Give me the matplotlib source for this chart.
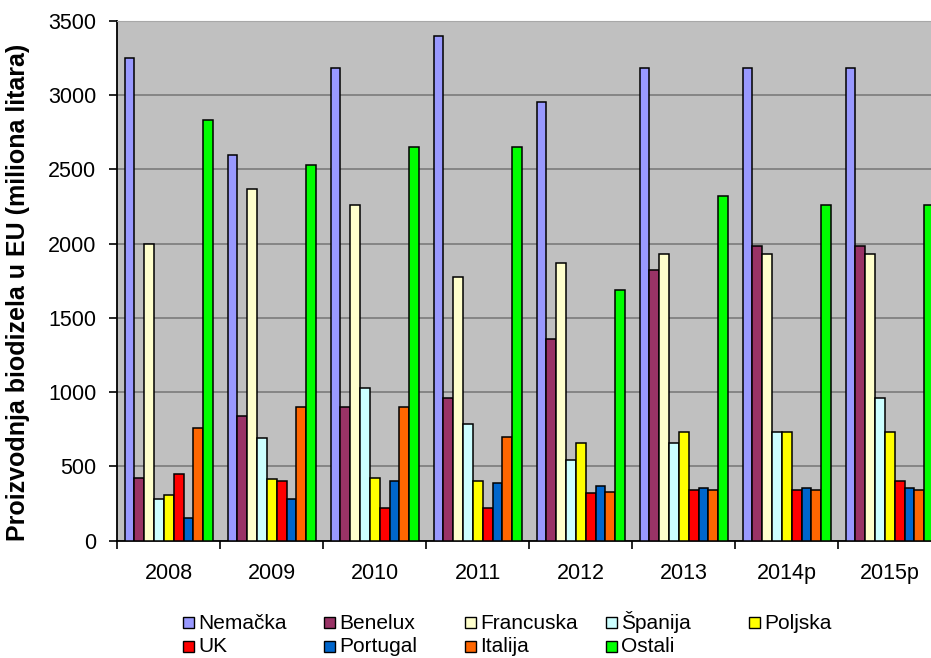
import numpy as np
import matplotlib
matplotlib.use('Agg')
import matplotlib.pyplot as plt
from matplotlib.patches import Rectangle

plt.rcParams['font.family'] = ['Liberation Sans', 'DejaVu Sans']

years = ['2008', '2009', '2010', '2011', '2012', '2013', '2014p', '2015p']
countries = ['Nemačka', 'Benelux', 'Francuska', 'Španija', 'Poljska',
             'UK', 'Portugal', 'Italija', 'Ostali']
colors = ['#9999FF', '#993366', '#FFFFCC', '#CCFFFF', '#FFFF00',
          '#FF0000', '#0066CC', '#FF6600', '#00FF00']

# miliona litara, po godini
nemacka   = [3250, 2595, 3180, 3400, 2950, 3180, 3180, 3180]
benelux   = [425, 840, 900, 960, 1355, 1820, 1985, 1985]
francuska = [2000, 2370, 2260, 1775, 1870, 1930, 1930, 1930]
spanija   = [280, 690, 1030, 785, 545, 660, 735, 960]
poljska   = [305, 415, 425, 400, 660, 735, 735, 735]
uk        = [450, 400, 220, 220, 320, 340, 340, 400]
portugal  = [150, 280, 400, 390, 365, 355, 355, 355]
italija   = [760, 900, 900, 700, 330, 340, 340, 340]
ostali    = [2830, 2530, 2650, 2650, 1690, 2320, 2260, 2260]
series = [nemacka, benelux, francuska, spanija, poljska,
          uk, portugal, italija, ostali]

W, H = 931, 658
fig = plt.figure(figsize=(W/100, H/100), dpi=100)
ax = fig.add_axes([117.3/W, 1-540.7/H, 824/W, 520/H])
ax.set_facecolor('#C0C0C0')

x = np.arange(len(years))
w = 0.0955
start = 0.07
for i, (vals, c) in enumerate(zip(series, colors)):
    ax.bar(x + start + i*w, vals, width=w, align='edge', color=c,
           edgecolor='black', linewidth=1.1, zorder=3, label=countries[i])

ax.set_xlim(0, len(years))
ax.set_ylim(0, 3500)
ax.set_yticks(np.arange(0, 3501, 500))
ax.yaxis.grid(True, color='#808080', linewidth=1.3, zorder=1)
ax.set_axisbelow(True)

ax.set_xticks(np.arange(0, len(years)+1))
ax.set_xticklabels([])
ax.set_xticks(x + 0.5, minor=True)
ax.set_xticklabels(years, minor=True)
ax.tick_params(axis='x', which='minor', length=0, pad=16, labelsize=15.5)
ax.tick_params(axis='x', which='major', length=6, width=1.2, direction='out')
ax.tick_params(axis='y', length=6, width=1.2, direction='out', pad=9, labelsize=15.5)

ax.spines['right'].set_visible(False)
ax.spines['top'].set_color('#A8A8A8')
ax.spines['left'].set_linewidth(1.3)
ax.spines['bottom'].set_linewidth(1.3)

fig.text(18/W, 0.5555, 'Proizvodnja biodizela u EU (miliona litara)',
         rotation=90, ha='center', va='center', fontsize=18, fontweight='bold')

# legend, Excel style: 5 fixed columns, 2 rows
col_x = [183, 324, 465, 606, 749]
row_base = [629, 652.5]
for k, (name, c) in enumerate(zip(countries, colors)):
    r, col = divmod(k, 5)
    lx, by = col_x[col], row_base[r]
    fig.patches.append(Rectangle((lx/W, 1-(by-1)/H), 11/W, 11/H,
                                 transform=fig.transFigure, facecolor=c,
                                 edgecolor='black', linewidth=1.0))
    fig.text((lx+15)/W, 1-by/H, name, ha='left', va='baseline', fontsize=15)

fig.savefig('out.png', dpi=100)
